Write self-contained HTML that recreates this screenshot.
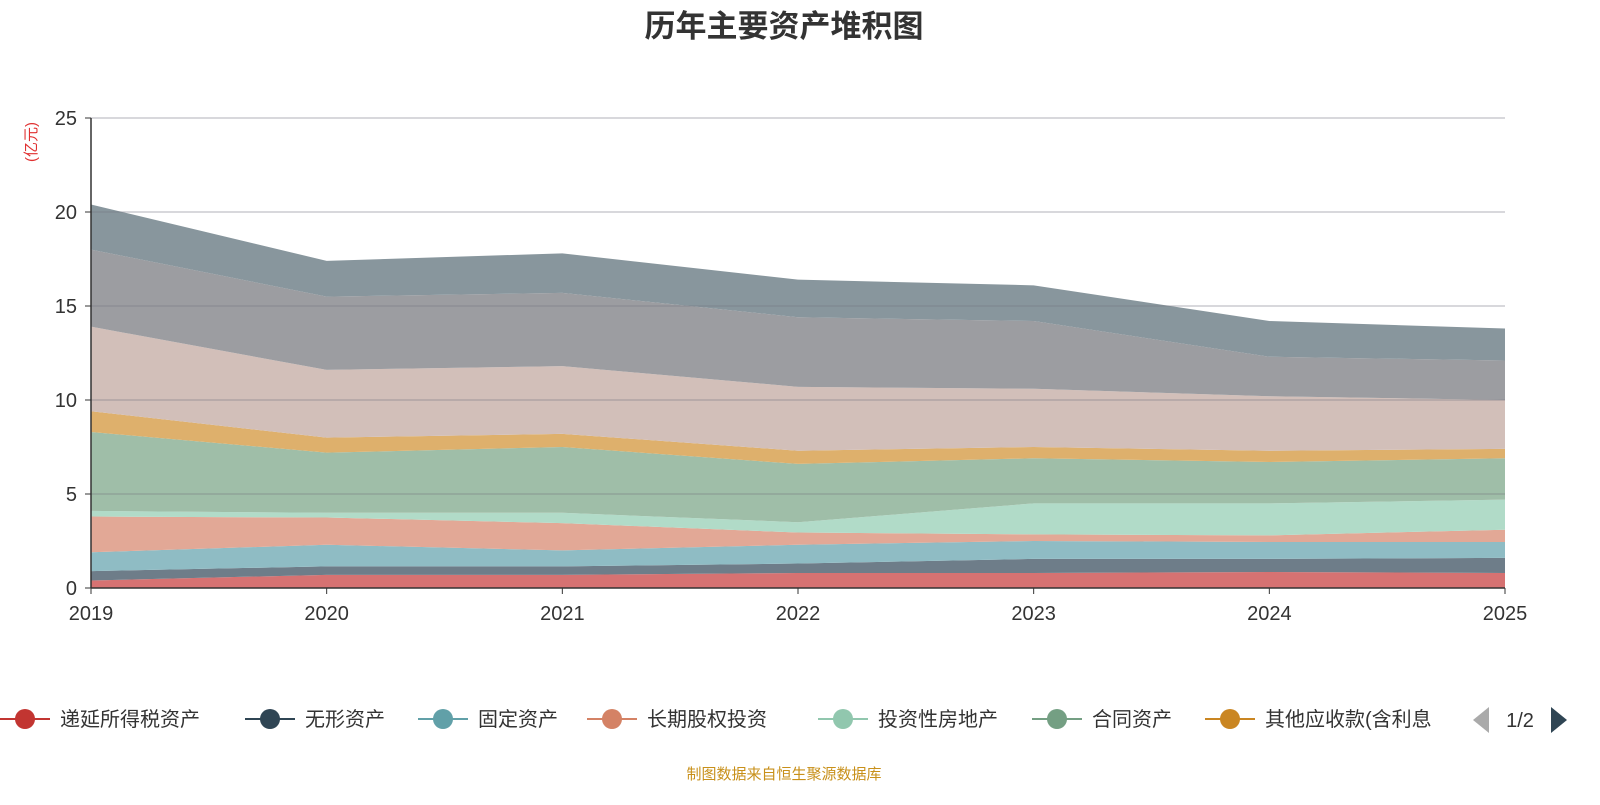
<!DOCTYPE html>
<html><head><meta charset="utf-8"><style>
body{margin:0;background:#fff;font-family:"Liberation Sans","Noto Sans CJK SC",sans-serif;}
svg text{font-family:"Liberation Sans","Noto Sans CJK SC",sans-serif;}
</style></head><body>
<svg id="c" width="1600" height="800" xmlns="http://www.w3.org/2000/svg">
<text x="784" y="37" text-anchor="middle" font-size="31" font-weight="bold" fill="#333">历年主要资产堆积图</text>
<text transform="translate(36,142) rotate(-90)" text-anchor="middle" font-size="15" fill="#e03030">(亿元)</text>
<g id="areas"></g><g id="grid"></g><g id="axes"></g><g id="legend"></g>
<text x="784" y="779" text-anchor="middle" font-size="15" fill="#c8901a">制图数据来自恒生聚源数据库</text>
</svg>
<script>
const years=["2019","2020","2021","2022","2023","2024","2025"];
const yTicks=[0,5,10,15,20,25];
const sDeferredTax=[0.4,0.7,0.7,0.8,0.8,0.85,0.8];
const sIntangible=[0.5,0.45,0.45,0.5,0.75,0.7,0.8];
const sFixed=[1.0,1.15,0.85,1.0,0.95,0.9,0.85];
const sLongEquity=[1.9,1.45,1.45,0.65,0.35,0.35,0.65];
const sInvProperty=[0.3,0.25,0.55,0.55,1.65,1.7,1.6];
const sContract=[4.2,3.2,3.5,3.1,2.4,2.2,2.2];
const sOtherRecv=[1.1,0.8,0.7,0.7,0.6,0.6,0.5];
const sS8=[4.5,3.6,3.6,3.4,3.1,2.9,2.6];
const sS9=[4.1,3.9,3.9,3.7,3.6,2.1,2.1];
const sS10=[2.4,1.9,2.1,2.0,1.9,1.9,1.7];
const series=[sDeferredTax,sIntangible,sFixed,sLongEquity,sInvProperty,sContract,sOtherRecv,sS8,sS9,sS10];
const names=["递延所得税资产","无形资产","固定资产","长期股权投资","投资性房地产","合同资产","其他应收款(含利息"];
const fills=["#d67272","#6e7d89","#8fbcc4","#e2a896","#b1dbc8","#9fbea8","#deb06c","#d2bfb9","#9c9da1","#88969d"];
const mcol=["#c23531","#2f4554","#61a0a8","#d48265","#91c7ae","#749f83","#ca8622"];
const NS="http://www.w3.org/2000/svg";
const X0=91,X1=1505,Y0=588,Y1=118,YMAX=25;
const xs=i=>X0+(X1-X0)*i/(years.length-1);
const ys=v=>Y0-(Y0-Y1)*v/YMAX;
function mk(t,a,p){const e=document.createElementNS(NS,t);for(const k in a)e.setAttribute(k,a[k]);p.appendChild(e);return e;}
const areas=document.getElementById('areas');
let base=years.map(()=>0);
series.forEach((s,k)=>{
 const top=base.map((b,i)=>b+s[i]);
 let d="M"+years.map((_,i)=>xs(i)+","+ys(top[i])).join("L");
 for(let i=years.length-1;i>=0;i--)d+="L"+xs(i)+","+ys(base[i]);
 const p=mk('path',{d:d+"Z",fill:fills[k]},areas);
 
 
 base=top;
});
const grid=document.getElementById('grid'),axes=document.getElementById('axes');
yTicks.forEach(t=>{
 if(t>0){const l=mk('line',{x1:X0,x2:X1,y1:ys(t),y2:ys(t),stroke:"rgba(120,120,130,0.45)","stroke-width":1.2},grid);
 }
 mk('line',{x1:X0-6,x2:X0,y1:ys(t),y2:ys(t),stroke:"#333"},axes);
 const tx=mk('text',{x:X0-14,y:ys(t)+7,"text-anchor":"end","font-size":20,fill:"#333"},axes);tx.textContent=t;
 
});
mk('line',{x1:X0,x2:X0,y1:Y1,y2:Y0,stroke:"#333","stroke-width":1.5},axes);
mk('line',{x1:X0,x2:X1,y1:Y0,y2:Y0,stroke:"#333","stroke-width":1.5},axes);
years.forEach((y,i)=>{
 mk('line',{x1:xs(i),x2:xs(i),y1:Y0,y2:Y0+6,stroke:"#333"},axes);
 const tx=mk('text',{x:xs(i),y:Y0+32,"text-anchor":"middle","font-size":20,fill:"#333"},axes);tx.textContent=y;
 
});
const lg=document.getElementById('legend');
const cx=[25,270,443,612,843,1057,1230];
names.forEach((n,k)=>{
 const g=mk('g',{},lg);
 
 mk('line',{x1:cx[k]-25,x2:cx[k]+25,y1:719,y2:719,stroke:mcol[k],"stroke-width":2},g);
 mk('circle',{cx:cx[k],cy:719,r:10,fill:mcol[k]},g);
 const t=mk('text',{x:cx[k]+35,y:726,"font-size":20,fill:"#333"},g);t.textContent=n;
});
mk('rect',{x:1456,y:700,width:20,height:40,fill:"#fff"},lg);
const pl=mk('path',{d:"M1489,707L1473,720L1489,733Z",fill:"#aaa"},lg);

const pt=mk('text',{x:1520,y:727,"text-anchor":"middle","font-size":20,fill:"#333"},lg);pt.textContent="1/2";

const pr=mk('path',{d:"M1551,707L1567,720L1551,733Z",fill:"#2f4554"},lg);

</script>
</body></html>
